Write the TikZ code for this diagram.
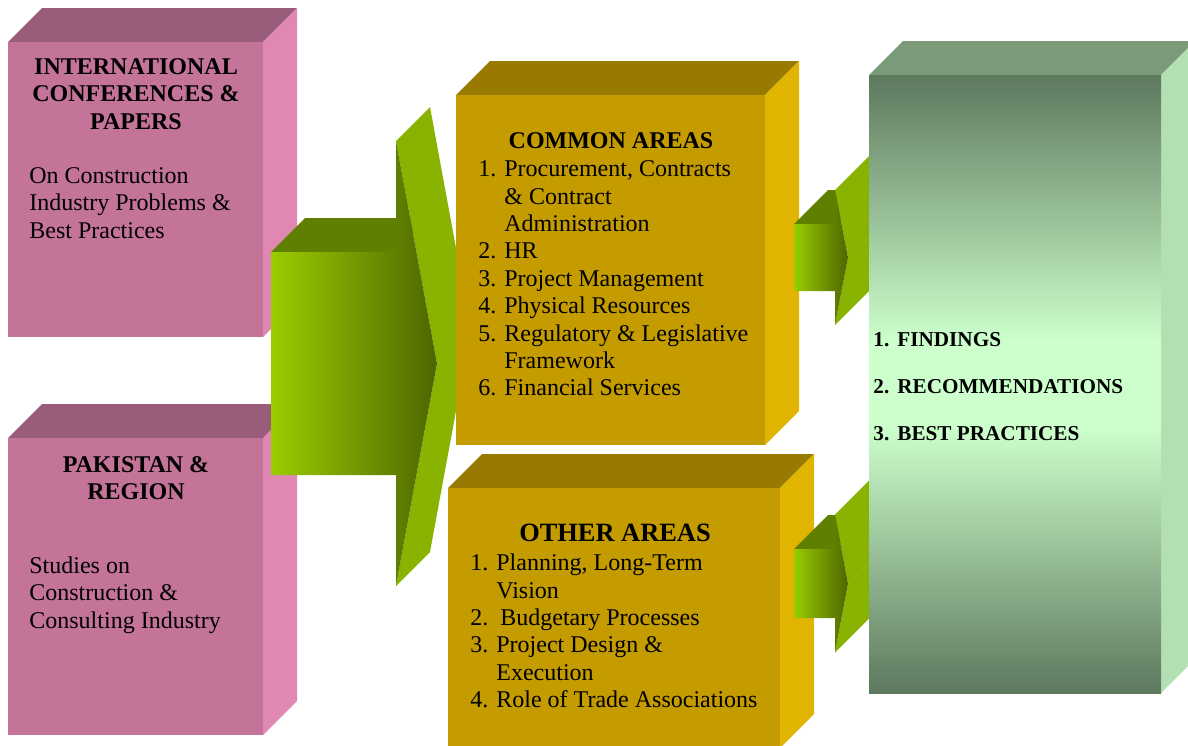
\documentclass[tikz,border=0pt]{standalone}
\usepackage{fontspec}
\setmainfont{Liberation Serif}

\definecolor{pinkfront}{HTML}{C47399}
\definecolor{pinktop}{HTML}{995C7A}
\definecolor{pinkside}{HTML}{E087B3}
\definecolor{goldfront}{HTML}{C49C00}
\definecolor{goldtop}{HTML}{997A00}
\definecolor{goldside}{HTML}{E0B400}
\definecolor{leaflight}{HTML}{99CC00}
\definecolor{leafdark}{HTML}{4D6600}
\definecolor{leaftop}{HTML}{5E7F00}
\definecolor{leafside}{HTML}{88B300}
\definecolor{sagedark}{HTML}{5E785E}
\definecolor{sagelight}{HTML}{CCFFCC}
\definecolor{sagetop}{HTML}{7A9A7A}
\definecolor{sageside}{HTML}{B3E0B3}

\pgfdeclareverticalshading{sageband}{100bp}{color(0bp)=(sagedark); color(25bp)=(sagedark);
  color(46.5bp)=(sagelight); color(53.5bp)=(sagelight); color(75bp)=(sagedark); color(100bp)=(sagedark)}

% block with top and side face: x1, y1, x2, y2, colour set
\newcommand{\slab}[5]{%
  \path[#5 top] (#1,#2) -- (#1+34,#2-34) -- (#3+34,#2-34) -- (#3,#2) -- cycle;
  \path[#5 side] (#3,#2) -- (#3+34,#2-34) -- (#3+34,#4-34) -- (#3,#4) -- cycle;
  \path[#5 front] (#1,#2) rectangle (#3,#4);}

% block arrow: x start, x head, x tip, mid y, body half, head half
\newcommand{\fatarrow}[6]{%
  \fill[leaftop] (#1,#4-#5) -- (#1+34,#4-#5-34) -- (#2+34,#4-#5-34) -- (#2,#4-#5) -- cycle;
  \fill[leafside] (#2,#4-#6) -- (#2+34,#4-#6-34) -- (#3+34,#4-34) -- (#3,#4) -- cycle;
  \fill[leafside] (#3,#4) -- (#3+34,#4-34) -- (#2+34,#4+#6-34) -- (#2,#4+#6) -- cycle;
  \shade[left color=leaflight, right color=leafdark] (#1,#4-#5) -- (#2,#4-#5) -- (#2,#4-#6)
    -- (#3,#4) -- (#2,#4+#6) -- (#2,#4+#5) -- (#1,#4+#5) -- cycle;}

\begin{document}
\begin{tikzpicture}[x=0.5pt, y=-0.5pt,
    pink top/.style={fill=pinktop}, pink side/.style={fill=pinkside}, pink front/.style={fill=pinkfront},
    gold top/.style={fill=goldtop}, gold side/.style={fill=goldside}, gold front/.style={fill=goldfront},
    sage top/.style={fill=sagetop}, sage side/.style={fill=sageside},
    sage front/.style={shade, shading=sageband},
    head/.style={inner sep=0pt, align=center, font=\fontsize{12}{13.6}\selectfont\bfseries},
    note/.style={inner sep=0pt, align=left, anchor=west, font=\fontsize{12}{13.7}\selectfont}]
  \useasboundingbox (0,0) rectangle (1188,745);

  \slab{8}{42}{263}{337}{pink}
  \slab{8}{438}{263}{735}{pink}
  \fatarrow{271}{396}{437}{363.5}{111.5}{222.5}
  \slab{456}{95}{765}{445}{gold}
  \slab{448}{488}{780}{748}{gold}
  \fatarrow{794}{835}{848}{257.5}{33.5}{67.5}
  \fatarrow{794}{835}{848}{583.5}{34.5}{69}
  \slab{869}{75}{1161}{693}{sage}

  % sources
  \node[head] (intl) at (136,94) {INTERNATIONAL\\CONFERENCES \&\\PAPERS};
  \node[note] (intlnote) at (29,203) {On Construction\\Industry Problems \&\\Best Practices};
  \node[head] (pak) at (136,478) {PAKISTAN \&\\REGION};
  \node[note] (paknote) at (29,595) {Studies on\\Construction \&\\Consulting Industry};

  % areas
  \node[head] (common) at (611,141) {COMMON AREAS};
  \node[note] (commonlist) at (478,278.5) {1. Procurement, Contracts\\\phantom{1. }\& Contract\\\phantom{1. }Administration\\2. HR\\3. Project Management\\4. Physical Resources\\5. Regulatory \& Legislative\\\phantom{1. }Framework\\6. Financial Services};
  \node[head, font=\fontsize{13.2}{15}\selectfont\bfseries] (other) at (615,533) {OTHER AREAS};
  \node[note] (otherlist) at (470,631) {1. Planning, Long-Term\\\phantom{1. }Vision\\2.\ \ Budgetary Processes\\3. Project Design \&\\\phantom{1. }Execution\\4. Role of Trade Associations};

  % outcome
  \node[note, font=\fontsize{10.6}{23.5}\selectfont\bfseries] (outcome) at (873,387)
    {\makebox[12pt][l]{1.}FINDINGS\\\makebox[12pt][l]{2.}RECOMMENDATIONS\\\makebox[12pt][l]{3.}BEST PRACTICES};
\end{tikzpicture}
\end{document}
